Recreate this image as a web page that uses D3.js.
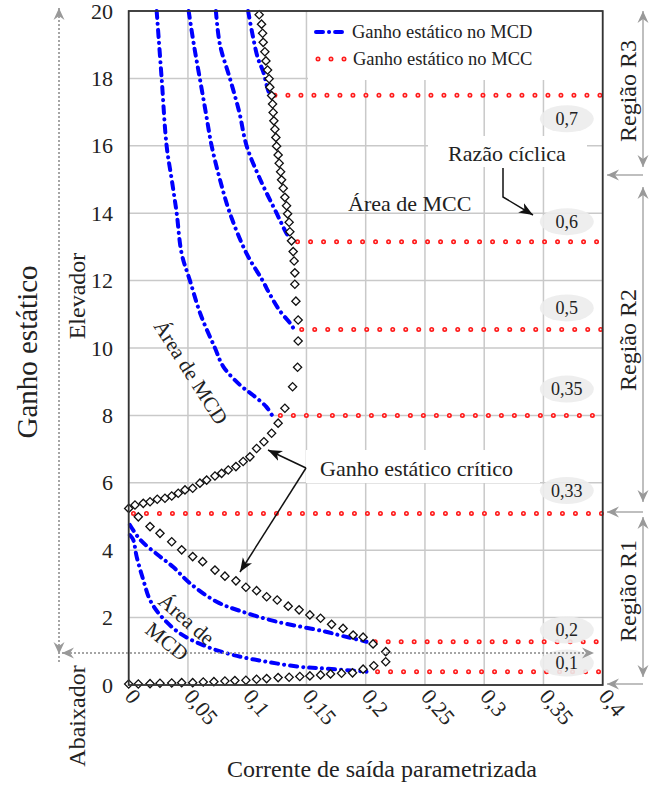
<!DOCTYPE html>
<meta charset="utf-8">
<style>
  body { margin: 0; background: #fff; }
  svg { position: absolute; left: 0; top: 0; }
  text { font-family: 'Liberation Serif', 'DejaVu Serif', serif; fill: #222; }
  .grid line { stroke: #c9c9c9; stroke-width: 1.5; }
  .mcd { fill: none; stroke: #0000ff; stroke-width: 4; stroke-linecap: round; stroke-dasharray: 7,6,0.1,6; }
  .mcc-o { fill: none; stroke: #ff1a1a; stroke-width: 5; stroke-linecap: round; stroke-dasharray: 0,13; }
  .mcc-i { fill: none; stroke: #ffe0e0; stroke-width: 1.8; stroke-linecap: round; stroke-dasharray: 0,13; }
  .crit { fill: #fff; stroke: #111; stroke-width: 1.3; }
</style>
<script src="https://d3js.org/d3.v7.min.js"></script>
<svg width="659" height="785"></svg>
<script>
// ---- data ----
var xTicks = [0, 0.05, 0.1, 0.15, 0.2, 0.25, 0.3, 0.35, 0.4];
var xTickLabels = ["0", "0,05", "0,1", "0,15", "0,2", "0,25", "0,3", "0,35", "0,4"];
var yTicks = [0, 2, 4, 6, 8, 10, 12, 14, 16, 18, 20];

// duty cycles and the MCC (continuous mode) static gain for each
var dutyLabels = ["0,1", "0,2", "0,33", "0,35", "0,5", "0,6", "0,7"];
var mccGain    = [0.395, 1.285, 5.09, 8.0, 10.55, 13.15, 17.5];
var mccStart   = [0.21, 0.208, 0.004, 0.128, 0.146, 0.1425, 0.1234];

// MCD (discontinuous mode) static gain curves, [current, gain]
var mcd01 = [[0.001,4.45],[0.0039,4.3],[0.0067,3.81],[0.0123,3.12],[0.018,2.52],[0.0264,2.08],[0.0433,1.53],
  [0.0658,1.14],[0.0882,0.89],[0.1164,0.69],[0.1444,0.54],[0.161,0.5],[0.2007,0.395]];
var mcd02 = [[0.001,4.75],[0.01,4.3],[0.025,3.85],[0.0376,3.5],[0.0517,3.02],[0.0742,2.47],[0.0938,2.2],
  [0.1248,1.88],[0.164,1.6],[0.181,1.45],[0.2007,1.285]];
var mcd035 = [[0.0236,20],[0.0278,18],[0.032,16],[0.0363,15],[0.0405,14],[0.0447,12.8],[0.0517,12],[0.0606,11],
  [0.0728,10],[0.0798,9.45],[0.094,8.9],[0.105,8.6],[0.116,8.26],[0.121,8.0]];
var mcd05 = [[0.0506,20],[0.055,19],[0.06,18],[0.065,17],[0.07,16],[0.077,15],[0.0854,14],[0.0995,12.8],
  [0.113,12],[0.119,11.6],[0.1276,11.1],[0.137,10.7],[0.1395,10.55]];
var mcd06 = [[0.0736,20],[0.077,19],[0.0854,18],[0.0933,17],[0.0995,16],[0.111,15],[0.1248,14],[0.1332,13.4],[0.1374,13.18]];
var mcd07 = [[0.1008,20],[0.1045,19.3],[0.109,18.6],[0.1135,18.2],[0.1164,17.8],[0.1185,17.55]];

// critical static gain (boundary), diamonds
var critical = [
  [0.0,5.24],[0.0053,5.34],[0.0123,5.39],[0.018,5.44],[0.0241,5.51],[0.0306,5.54],[0.0363,5.61],[0.0418,5.69],
  [0.0475,5.79],[0.054,5.84],[0.0601,5.99],[0.0658,6.08],[0.0728,6.2],[0.0784,6.28],[0.084,6.38],[0.0905,6.48],
  [0.0966,6.63],[0.1023,6.77],[0.1079,7.02],[0.1141,7.22],[0.1206,7.47],[0.1261,7.77],[0.1318,8.21],[0.1383,8.85],
  [0.1425,9.43],[0.143,10.21],[0.143,10.83],[0.1411,11.39],[0.1402,11.89],[0.1402,12.23],[0.1396,12.58],[0.1388,12.86],
  [0.1374,13.18],[0.136,13.45],[0.1354,13.73],[0.1341,13.98],[0.1332,14.22],[0.1318,14.47],[0.1304,14.74],[0.129,14.99],
  [0.1282,15.23],[0.127,15.48],[0.1261,15.73],[0.1248,15.99],[0.1242,16.25],[0.1234,16.49],[0.1225,16.74],[0.1219,16.99],
  [0.1214,17.24],[0.1206,17.49],[0.1191,17.74],[0.1185,17.99],[0.1172,18.25],[0.1158,18.52],[0.1149,18.79],[0.1135,19.07],
  [0.113,19.34],[0.1121,19.61],[0.1101,19.89],
  [0.0081,4.99],[0.018,4.7],[0.0264,4.5],[0.0363,4.25],[0.0447,4.01],[0.054,3.81],[0.0624,3.66],[0.0728,3.41],
  [0.0812,3.23],[0.0905,3.09],[0.0989,2.9],[0.1079,2.8],[0.1164,2.62],[0.1253,2.52],[0.1346,2.34],[0.1438,2.23],
  [0.1529,2.08],[0.1619,1.98],[0.1712,1.8],[0.1809,1.68],[0.1894,1.48],[0.1978,1.42],[0.2062,1.22],[0.2169,0.99],
  [0.2169,0.69],[0.2068,0.57],[0.1978,0.47],[0.1889,0.36],[0.1796,0.35],[0.1703,0.33],[0.1619,0.3],[0.1529,0.27],
  [0.1444,0.25],[0.1354,0.23],[0.1261,0.22],[0.1164,0.19],[0.1079,0.17],[0.0989,0.14],[0.0896,0.13],[0.0812,0.12],
  [0.0719,0.1],[0.0629,0.09],[0.054,0.07],[0.0447,0.07],[0.0363,0.06],[0.0264,0.05],[0.018,0.04],[0.0081,0.03],[0.0,0.03]
];

// ---- drawing ----
var svg = d3.select("svg");
var x = d3.scaleLinear().domain([0, 0.4]).range([128.7, 602.7]);
var y = d3.scaleLinear().domain([0, 20]).range([685, 11]);

var defs = svg.append("defs");
defs.append("marker").attr("id", "ga").attr("viewBox", "-12 -6 14 12")
  .attr("refX", 0).attr("refY", 0).attr("markerWidth", 14).attr("markerHeight", 12)
  .attr("markerUnits", "userSpaceOnUse").attr("orient", "auto-start-reverse")
  .append("path").attr("d", "M0,0 L-12,-5.5 L-8,0 L-12,5.5 Z").attr("fill", "#999");
defs.append("marker").attr("id", "ba").attr("viewBox", "-14 -6 16 12")
  .attr("refX", 0).attr("refY", 0).attr("markerWidth", 16).attr("markerHeight", 12)
  .attr("markerUnits", "userSpaceOnUse").attr("orient", "auto")
  .append("path").attr("d", "M0,0 L-14,-5.5 L-10,0 L-14,5.5 Z").attr("fill", "#111");

// grid
var grid = svg.append("g").attr("class", "grid");
grid.selectAll(".gx").data(xTicks).enter().append("line")
  .attr("x1", d => x(d)).attr("x2", d => x(d)).attr("y1", y(0)).attr("y2", y(20));
grid.selectAll(".gy").data(yTicks).enter().append("line")
  .attr("y1", d => y(d)).attr("y2", d => y(d)).attr("x1", x(0)).attr("x2", x(0.4));

// white boxes behind some labels / legend
svg.append("rect").attr("x", 308).attr("y", y(20)).attr("width", x(0.4) - 308).attr("height", 69).attr("fill", "#fff");
svg.append("rect").attr("x", 428).attr("y", 136).attr("width", 159).attr("height", 31).attr("fill", "#fff");
svg.append("rect").attr("x", 306).attr("y", 450).attr("width", 234).attr("height", 33).attr("fill", "#fff");

// MCC lines
var mcc = dutyLabels.map((d, i) => ({ label: d, g: mccGain[i], x0: mccStart[i] }));
mcc.forEach(function(m) {
  var p = "M" + x(m.x0) + "," + y(m.g) + "H" + x(0.4);
  svg.append("path").attr("class", "mcc-o").attr("d", p);
  svg.append("path").attr("class", "mcc-i").attr("d", p);
});

// MCD curves
var line = d3.line().x(d => x(d[0])).y(d => y(d[1])).curve(d3.curveCatmullRom);
[mcd01, mcd02, mcd035, mcd05, mcd06, mcd07].forEach(function(c) {
  svg.append("path").attr("class", "mcd").attr("d", line(c));
});

// critical gain diamonds
var sq = d3.symbol().type(d3.symbolSquare).size(34);
svg.append("g").selectAll("path").data(critical).enter().append("path")
  .attr("class", "crit").attr("d", sq)
  .attr("transform", d => "translate(" + x(d[0]) + "," + y(d[1]) + ") rotate(45)");

// frame
svg.append("rect").attr("x", x(0)).attr("y", y(20)).attr("width", x(0.4) - x(0)).attr("height", y(0) - y(20))
  .attr("fill", "none").attr("stroke", "#333").attr("stroke-width", 1.8);

// y tick labels
svg.selectAll(".yt").data(yTicks).enter().append("text")
  .attr("x", 113).attr("y", d => y(d) + 7.5).attr("text-anchor", "end")
  .style("font-size", "22px").text(d => d);

// x tick labels (rotated)
svg.selectAll(".xt").data(xTicks).enter().append("text")
  .attr("transform", (d, i) => "translate(" + (x(d) - 5) + ",697) rotate(50)")
  .attr("text-anchor", "start").style("font-size", "22px").text((d, i) => xTickLabels[i]);

// axis titles
svg.append("text").attr("transform", "translate(382,777)").attr("text-anchor", "middle")
  .style("font-size", "24px").text("Corrente de saída parametrizada");
svg.append("text").attr("transform", "translate(37,352) rotate(-90)").attr("text-anchor", "middle")
  .style("font-size", "29px").text("Ganho estático");
svg.append("text").attr("transform", "translate(85,296) rotate(-90)").attr("text-anchor", "middle")
  .style("font-size", "24px").text("Elevador");
svg.append("text").attr("transform", "translate(85,716) rotate(-90)").attr("text-anchor", "middle")
  .style("font-size", "24px").text("Abaixador");

// legend
svg.append("path").attr("class", "mcd").attr("d", "M316,32H342");
svg.append("path").attr("class", "mcc-o").attr("d", "M318,59H345");
svg.append("path").attr("class", "mcc-i").attr("d", "M318,59H345");
svg.append("text").attr("x", 352).attr("y", 38).style("font-size", "18.5px").text("Ganho estático no MCD");
svg.append("text").attr("x", 353).attr("y", 65).style("font-size", "18.5px").text("Ganho estático no MCC");

// duty cycle pills
var pillPos = { "0,7": 16.8, "0,6": 13.75, "0,5": 11.19, "0,35": 8.78, "0,33": 5.77, "0,2": 1.63, "0,1": 0.65 };
mcc.forEach(function(m) {
  var cy = y(pillPos[m.label]), cx = x(0.3697);
  svg.append("ellipse").attr("cx", cx).attr("cy", cy).attr("rx", 27).attr("ry", 13.5).attr("fill", "#ececec").attr("fill-opacity", 0.9);
  svg.append("text").attr("x", cx).attr("y", cy + 6).attr("text-anchor", "middle")
    .style("font-size", "18px").text(m.label);
});

// annotations
svg.append("text").attr("x", 448).attr("y", 161).style("font-size", "22px").text("Razão cíclica");
svg.append("path").attr("d", "M503,168 V197 L533,215").attr("fill", "none").attr("stroke", "#111")
  .attr("stroke-width", 1.5).attr("marker-end", "url(#ba)");
svg.append("text").attr("x", 348).attr("y", 211).style("font-size", "22px").text("Área de MCC");
svg.append("text").attr("x", 320).attr("y", 476).style("font-size", "22px").text("Ganho estático crítico");
svg.append("path").attr("d", "M306,468 L268,450").attr("stroke", "#111").attr("stroke-width", 1.5).attr("marker-end", "url(#ba)");
svg.append("path").attr("d", "M306,468 L240,572").attr("stroke", "#111").attr("stroke-width", 1.5).attr("marker-end", "url(#ba)");
svg.append("text").attr("transform", "translate(153,326) rotate(57.5)").style("font-size", "21px").text("Área de MCD");
svg.append("text").attr("transform", "translate(157,603) rotate(41)").style("font-size", "21px").text("Área de");
svg.append("text").attr("transform", "translate(144,632) rotate(39)").style("font-size", "21px").text("MCD");

// left dotted arrows (boost / buck)
svg.append("path").attr("d", "M59,662 V8").attr("stroke", "#888").attr("stroke-width", 1.5)
  .attr("stroke-dasharray", "2,2").attr("fill", "none").attr("marker-end", "url(#ga)");
svg.append("path").attr("d", "M59,100 V654").attr("stroke", "none").attr("fill", "none").attr("marker-end", "url(#ga)");
svg.append("path").attr("d", "M62," + y(0.95) + " H594").attr("stroke", "#888").attr("stroke-width", 1.5)
  .attr("stroke-dasharray", "2,2").attr("fill", "none")
  .attr("marker-start", "url(#ga)").attr("marker-end", "url(#ga)");

// right region arrows
var rx = 643;
[[11, 167], [187, 502], [517, 677]].forEach(function(s) {
  svg.append("path").attr("d", "M" + rx + "," + s[0] + " V" + s[1]).attr("stroke", "#aaa").attr("stroke-width", 1.5)
    .attr("fill", "none").attr("marker-start", "url(#ga)").attr("marker-end", "url(#ga)");
});
[175, 512, 684].forEach(function(yy) {
  svg.append("path").attr("d", "M" + rx + "," + yy + " H607").attr("stroke", "#aaa").attr("stroke-width", 1.5)
    .attr("fill", "none").attr("marker-end", "url(#ga)");
});
svg.append("text").attr("transform", "translate(636,91) rotate(-90)").attr("text-anchor", "middle").style("font-size", "24px").text("Região R3");
svg.append("text").attr("transform", "translate(636,340) rotate(-90)").attr("text-anchor", "middle").style("font-size", "24px").text("Região R2");
svg.append("text").attr("transform", "translate(636,591) rotate(-90)").attr("text-anchor", "middle").style("font-size", "24px").text("Região R1");
</script>
